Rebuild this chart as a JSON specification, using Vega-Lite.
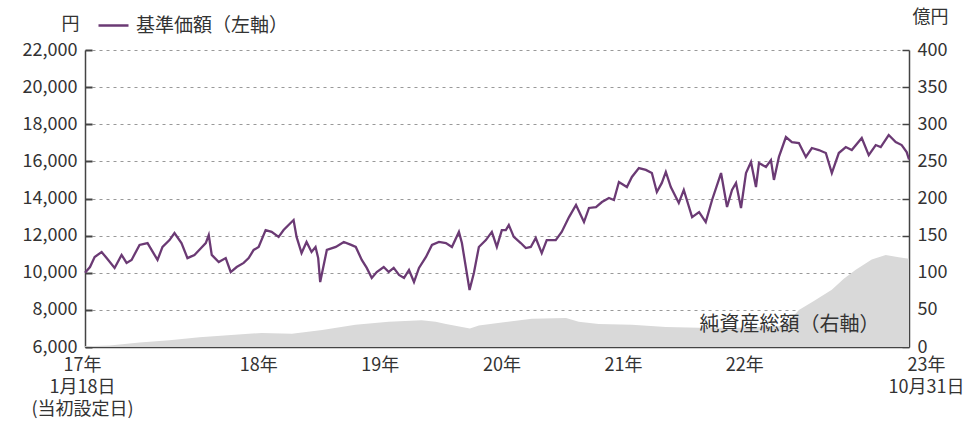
{
  "$schema": "https://vega.github.io/schema/vega-lite/v6.json",
  "width": 824,
  "height": 297,
  "autosize": {"type": "none"},
  "padding": {"left": 85, "top": 50, "right": 57, "bottom": 74},
  "background": "white",
  "config": {
    "view": {"stroke": null},
    "font": "Noto Sans CJK JP",
    "axis": {
      "labelFont": "Noto Sans CJK JP",
      "labelFontSize": 18,
      "labelColor": "#333",
      "domainColor": "#444",
      "domainWidth": 1.5,
      "tickColor": "#444",
      "titleFont": "Noto Sans CJK JP",
      "titleFontSize": 18,
      "titleColor": "#333",
      "titleFontWeight": "normal"
    }
  },
  "datasets": {
    "price": [
      {"date": "2017-01-18", "price": 10000},
      {"date": "2017-02-02", "price": 10310},
      {"date": "2017-02-16", "price": 10850},
      {"date": "2017-03-09", "price": 11120},
      {"date": "2017-03-24", "price": 10790},
      {"date": "2017-04-17", "price": 10260},
      {"date": "2017-05-08", "price": 10960},
      {"date": "2017-05-23", "price": 10530},
      {"date": "2017-06-07", "price": 10690},
      {"date": "2017-07-01", "price": 11500},
      {"date": "2017-07-25", "price": 11600},
      {"date": "2017-08-15", "price": 10960},
      {"date": "2017-08-24", "price": 10690},
      {"date": "2017-09-08", "price": 11390},
      {"date": "2017-09-29", "price": 11760},
      {"date": "2017-10-14", "price": 12140},
      {"date": "2017-11-04", "price": 11600},
      {"date": "2017-11-22", "price": 10790},
      {"date": "2017-12-13", "price": 10960},
      {"date": "2018-01-02", "price": 11330},
      {"date": "2018-01-16", "price": 11600},
      {"date": "2018-01-25", "price": 12030},
      {"date": "2018-02-03", "price": 10960},
      {"date": "2018-02-24", "price": 10580},
      {"date": "2018-03-17", "price": 10790},
      {"date": "2018-04-01", "price": 10040},
      {"date": "2018-04-19", "price": 10310},
      {"date": "2018-05-10", "price": 10530},
      {"date": "2018-05-25", "price": 10790},
      {"date": "2018-06-09", "price": 11230},
      {"date": "2018-06-24", "price": 11390},
      {"date": "2018-07-15", "price": 12300},
      {"date": "2018-08-02", "price": 12200},
      {"date": "2018-08-23", "price": 11930},
      {"date": "2018-09-07", "price": 12300},
      {"date": "2018-09-28", "price": 12680},
      {"date": "2018-10-07", "price": 12840},
      {"date": "2018-10-16", "price": 11930},
      {"date": "2018-10-31", "price": 11060},
      {"date": "2018-11-15", "price": 11660},
      {"date": "2018-11-30", "price": 11120},
      {"date": "2018-12-12", "price": 11390},
      {"date": "2018-12-20", "price": 10790},
      {"date": "2018-12-26", "price": 9500},
      {"date": "2019-01-15", "price": 11230},
      {"date": "2019-02-11", "price": 11390},
      {"date": "2019-03-07", "price": 11660},
      {"date": "2019-03-29", "price": 11500},
      {"date": "2019-04-12", "price": 11390},
      {"date": "2019-04-30", "price": 10690},
      {"date": "2019-05-15", "price": 10260},
      {"date": "2019-05-30", "price": 9720},
      {"date": "2019-06-14", "price": 10040},
      {"date": "2019-07-05", "price": 10310},
      {"date": "2019-07-20", "price": 10040},
      {"date": "2019-08-04", "price": 10260},
      {"date": "2019-08-20", "price": 9880},
      {"date": "2019-09-04", "price": 9720},
      {"date": "2019-09-19", "price": 10150},
      {"date": "2019-10-04", "price": 9500},
      {"date": "2019-10-19", "price": 10260},
      {"date": "2019-11-09", "price": 10850},
      {"date": "2019-11-27", "price": 11500},
      {"date": "2019-12-18", "price": 11660},
      {"date": "2020-01-08", "price": 11600},
      {"date": "2020-01-26", "price": 11390},
      {"date": "2020-02-16", "price": 12200},
      {"date": "2020-02-25", "price": 11600},
      {"date": "2020-03-19", "price": 9070},
      {"date": "2020-04-01", "price": 9990},
      {"date": "2020-04-16", "price": 11390},
      {"date": "2020-05-07", "price": 11760},
      {"date": "2020-05-25", "price": 12200},
      {"date": "2020-06-09", "price": 11390},
      {"date": "2020-06-24", "price": 12300},
      {"date": "2020-07-06", "price": 12300},
      {"date": "2020-07-15", "price": 12570},
      {"date": "2020-07-30", "price": 11930},
      {"date": "2020-08-20", "price": 11600},
      {"date": "2020-09-04", "price": 11330},
      {"date": "2020-09-19", "price": 11390},
      {"date": "2020-10-04", "price": 11870},
      {"date": "2020-10-22", "price": 11060},
      {"date": "2020-11-06", "price": 11760},
      {"date": "2020-12-03", "price": 11760},
      {"date": "2020-12-21", "price": 12200},
      {"date": "2021-01-12", "price": 13000},
      {"date": "2021-02-02", "price": 13650},
      {"date": "2021-02-26", "price": 12730},
      {"date": "2021-03-13", "price": 13490},
      {"date": "2021-04-03", "price": 13540},
      {"date": "2021-04-21", "price": 13810},
      {"date": "2021-05-12", "price": 14030},
      {"date": "2021-05-27", "price": 13920},
      {"date": "2021-06-11", "price": 14890},
      {"date": "2021-07-05", "price": 14620},
      {"date": "2021-07-20", "price": 15160},
      {"date": "2021-08-10", "price": 15640},
      {"date": "2021-08-31", "price": 15540},
      {"date": "2021-09-18", "price": 15370},
      {"date": "2021-10-03", "price": 14350},
      {"date": "2021-10-18", "price": 14840},
      {"date": "2021-10-30", "price": 15430},
      {"date": "2021-11-14", "price": 14620},
      {"date": "2021-12-08", "price": 13760},
      {"date": "2021-12-23", "price": 14460},
      {"date": "2022-01-17", "price": 13000},
      {"date": "2022-02-07", "price": 13270},
      {"date": "2022-02-27", "price": 12730},
      {"date": "2022-03-18", "price": 13920},
      {"date": "2022-04-14", "price": 15370},
      {"date": "2022-05-02", "price": 13540},
      {"date": "2022-05-17", "price": 14460},
      {"date": "2022-05-29", "price": 14840},
      {"date": "2022-06-13", "price": 13490},
      {"date": "2022-06-28", "price": 15370},
      {"date": "2022-07-13", "price": 15970},
      {"date": "2022-07-28", "price": 14620},
      {"date": "2022-08-06", "price": 15910},
      {"date": "2022-08-27", "price": 15700},
      {"date": "2022-09-11", "price": 16070},
      {"date": "2022-09-20", "price": 15000},
      {"date": "2022-10-05", "price": 16240},
      {"date": "2022-10-26", "price": 17310},
      {"date": "2022-11-13", "price": 17040},
      {"date": "2022-12-04", "price": 16990},
      {"date": "2022-12-25", "price": 16240},
      {"date": "2023-01-12", "price": 16720},
      {"date": "2023-02-02", "price": 16610},
      {"date": "2023-02-23", "price": 16450},
      {"date": "2023-03-13", "price": 15370},
      {"date": "2023-04-03", "price": 16450},
      {"date": "2023-04-24", "price": 16770},
      {"date": "2023-05-12", "price": 16610},
      {"date": "2023-06-11", "price": 17260},
      {"date": "2023-07-02", "price": 16340},
      {"date": "2023-07-23", "price": 16880},
      {"date": "2023-08-07", "price": 16770},
      {"date": "2023-08-31", "price": 17420},
      {"date": "2023-09-21", "price": 17040},
      {"date": "2023-10-09", "price": 16880},
      {"date": "2023-10-24", "price": 16500},
      {"date": "2023-10-31", "price": 16100}
    ],
    "nav": [
      {"date": "2017-01-18", "nav": 1},
      {"date": "2017-04-02", "nav": 2},
      {"date": "2017-07-01", "nav": 6},
      {"date": "2017-09-29", "nav": 9},
      {"date": "2017-12-28", "nav": 13},
      {"date": "2018-07-03", "nav": 19},
      {"date": "2018-10-02", "nav": 18},
      {"date": "2019-01-01", "nav": 23},
      {"date": "2019-04-11", "nav": 30},
      {"date": "2019-07-20", "nav": 34},
      {"date": "2019-10-27", "nav": 36},
      {"date": "2019-12-08", "nav": 34},
      {"date": "2020-01-08", "nav": 31},
      {"date": "2020-03-20", "nav": 25},
      {"date": "2020-04-16", "nav": 29},
      {"date": "2020-06-24", "nav": 33},
      {"date": "2020-09-22", "nav": 38},
      {"date": "2021-01-03", "nav": 39},
      {"date": "2021-02-10", "nav": 34},
      {"date": "2021-04-11", "nav": 31},
      {"date": "2021-07-20", "nav": 30},
      {"date": "2021-10-30", "nav": 27},
      {"date": "2022-02-07", "nav": 26},
      {"date": "2022-06-07", "nav": 26},
      {"date": "2022-10-05", "nav": 28},
      {"date": "2022-11-04", "nav": 35},
      {"date": "2022-12-04", "nav": 50},
      {"date": "2023-01-18", "nav": 62},
      {"date": "2023-03-13", "nav": 77},
      {"date": "2023-04-18", "nav": 92},
      {"date": "2023-05-24", "nav": 104},
      {"date": "2023-07-11", "nav": 118},
      {"date": "2023-08-22", "nav": 124},
      {"date": "2023-09-30", "nav": 121},
      {"date": "2023-10-31", "nav": 119}
    ],
    "notes": [
      {"date": "2022-11-06", "nav": 29, "label": "純資産総額（右軸）"}
    ]
  },
  "layer": [
    {
      "data": {"name": "nav"},
      "mark": {"type": "area", "color": "#d9d9d9"},
      "encoding": {
        "x": {
          "field": "date", "type": "temporal",
          "scale": {"domain": [{"year": 2017, "month": 1, "date": 18, "utc": true}, {"year": 2023, "month": 10, "date": 31, "utc": true}], "nice": false},
          "axis": {
            "orient": "bottom",
            "values": [
              {"year": 2018, "month": 1, "date": 1, "utc": true},
              {"year": 2019, "month": 1, "date": 1, "utc": true},
              {"year": 2020, "month": 1, "date": 1, "utc": true},
              {"year": 2021, "month": 1, "date": 1, "utc": true},
              {"year": 2022, "month": 1, "date": 1, "utc": true},
              {"year": 2023, "month": 1, "date": 1, "utc": true}
            ],
            "labels": false, "tickSize": -7, "tickWidth": 2, "grid": false, "title": null, "domain": true
          }
        },
        "y": {
          "field": "nav", "type": "quantitative",
          "scale": {"domain": [0, 400], "nice": false},
          "axis": {
            "orient": "right",
            "values": [0, 50, 100, 150, 200, 250, 300, 350, 400],
            "tickSize": -7, "tickWidth": 1.5, "labelPadding": 15, "grid": false,
            "title": "億円", "titleAngle": 0, "titleX": 21, "titleY": -33, "titleAlign": "center", "titleBaseline": "middle"
          }
        }
      }
    },
    {
      "data": {"name": "notes"},
      "mark": {"type": "text", "font": "Noto Sans CJK JP", "fontSize": 20, "color": "#333", "align": "center", "baseline": "middle"},
      "encoding": {
        "x": {"field": "date", "type": "temporal", "axis": null},
        "y": {"field": "nav", "type": "quantitative", "scale": {"domain": [0, 400], "nice": false}, "axis": null},
        "text": {"field": "label"}
      }
    },
    {
      "data": {"name": "price"},
      "mark": {"type": "line", "strokeWidth": 2.3},
      "encoding": {
        "x": {
          "field": "date", "type": "temporal",
          "axis": {
            "orient": "bottom",
            "values": [
              {"year": 2017, "month": 1, "date": 18, "utc": true},
              {"year": 2018, "month": 7, "date": 2, "utc": true},
              {"year": 2019, "month": 7, "date": 2, "utc": true},
              {"year": 2020, "month": 7, "date": 2, "utc": true},
              {"year": 2021, "month": 7, "date": 2, "utc": true},
              {"year": 2022, "month": 7, "date": 2, "utc": true},
              {"year": 2023, "month": 10, "date": 31, "utc": true}
            ],
            "ticks": false, "domain": false, "grid": false, "title": null,
            "labelExpr": "utcyear(datum.value) == 2017 ? ['17年', '1月18日', '(当初設定日)'] : utcmonth(datum.value) == 9 ? ['23年', '10月31日'] : [(utcyear(datum.value) - 2000) + '年']",
            "labelOffset": {"condition": {"test": "utcmonth(datum.value) == 9", "value": 17}, "value": -3},
            "labelPadding": 9, "labelLineHeight": 22, "labelBaseline": "top", "labelAlign": "center",
            "labelOverlap": false, "labelBound": false, "labelFlush": false
          }
        },
        "y": {
          "field": "price", "type": "quantitative",
          "scale": {"domain": [6000, 22000], "nice": false},
          "axis": {
            "orient": "left",
            "values": [6000, 8000, 10000, 12000, 14000, 16000, 18000, 20000, 22000],
            "format": ",.0f",
            "tickSize": -7, "tickWidth": 2, "labelPadding": 15,
            "grid": true, "gridColor": "#999", "gridDash": [3, 4], "gridWidth": 1,
            "title": "円", "titleAngle": 0, "titleX": -15, "titleY": -26, "titleAlign": "center", "titleBaseline": "middle"
          }
        },
        "color": {
          "datum": "基準価額（左軸）",
          "scale": {"range": ["#6b3a74"]},
          "legend": {
            "orient": "none", "legendX": 12, "legendY": -41, "title": null,
            "symbolType": "stroke", "symbolSize": 900, "symbolStrokeWidth": 2.5,
            "labelFont": "Noto Sans CJK JP", "labelFontSize": 19, "labelColor": "#333", "labelOffset": 6
          }
        }
      }
    }
  ],
  "resolve": {"scale": {"y": "independent"}, "axis": {"x": "independent"}}
}
